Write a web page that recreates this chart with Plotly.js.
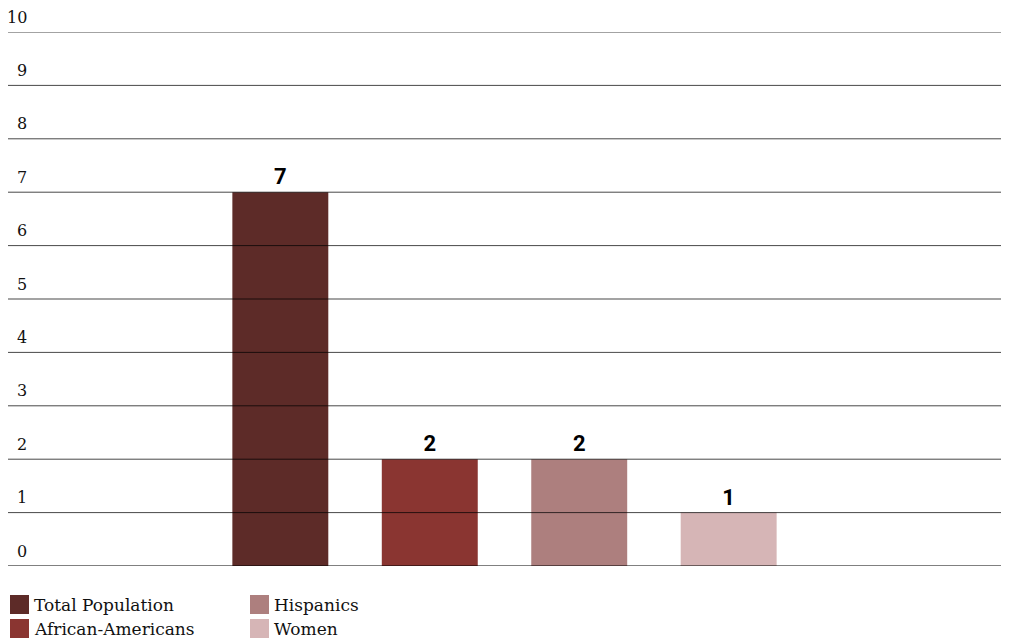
<!DOCTYPE html>
<html>
<head>
<meta charset="utf-8">
<script src="https://cdn.plot.ly/plotly-3.0.1.min.js"></script>
<style>
  html, body { margin: 0; padding: 0; background: #ffffff; }
  #chart { width: 1009px; height: 639px; }
</style>
</head>
<body>
<div id="chart"></div>
<script>
// Counts per group
const groups = ["Total Population", "African-Americans", "Hispanics", "Women"];
const counts = [7, 2, 2, 1];
const groupColors = ["#5d2b28", "#8a3531", "#ad7f7e", "#d6b5b6"];

// Value axis
const yTickValues = [0, 1, 2, 3, 4, 5, 6, 7, 8, 9, 10];
const yTickLabels = ["0", "1", "2", "3", "4", "5", "6", "7", "8", "9", "10"];
const yRange = [0, 10];

const W = 1009, H = 639;
const M = { l: 8, r: 8, t: 32, b: 73 };
const plotW = W - M.l - M.r;
const plotH = H - M.t - M.b;

// pixel -> paper helpers for the hand-drawn legend
const px = (x) => (x - M.l) / plotW;
const py = (y) => (H - M.b - y) / plotH;

const serif = "DejaVu Serif, Liberation Serif, serif";

const traces = groups.map((g, i) => ({
  type: "bar",
  name: g,
  x: [""],
  y: [counts[i]],
  text: [String(counts[i])],
  textposition: "outside",
  cliponaxis: false,
  marker: { color: groupColors[i], line: { width: 0 } },
  textfont: {
    family: "Roboto, DejaVu Sans, sans-serif",
    size: 22,
    weight: "bold",
    color: "#000000"
  },
  hoverinfo: "name+y",
  showlegend: false
}));

// Horizontal rules drawn over the bars
const shapes = yTickValues.map((v) => ({
  type: "line",
  xref: "paper", yref: "y",
  x0: 0, x1: 1, y0: v, y1: v,
  layer: "above",
  line: { color: v === 0 ? "#000000" : "rgba(0,0,0,0.72)", width: 1 }
}));

// Value labels sit just above each rule, right-aligned near the left edge
const annotations = yTickValues.map((v, i) => ({
  xref: "paper", yref: "y",
  x: 0, y: v,
  xanchor: "right", yanchor: "middle",
  xshift: 21, yshift: 15,
  showarrow: false,
  text: yTickLabels[i],
  font: { family: serif, size: 16, color: "#111111" }
}));

// Legend: two columns of swatches
const legendCols = [10, 250];
const legendRows = [595, 619];
groups.forEach((g, i) => {
  const col = Math.floor(i / 2);
  const row = i % 2;
  const x0 = legendCols[col];
  const y0 = legendRows[row];
  shapes.push({
    type: "rect",
    xref: "paper", yref: "paper",
    x0: px(x0), x1: px(x0 + 19),
    y0: py(y0 + 19), y1: py(y0),
    line: { width: 0 },
    fillcolor: groupColors[i]
  });
  annotations.push({
    xref: "paper", yref: "paper",
    x: px(x0 + 23), y: py(y0 + 9.5),
    xanchor: "left", yanchor: "middle",
    showarrow: false,
    borderpad: 0,
    text: g,
    font: { family: serif, size: 17, color: "#111111" }
  });
});

const layout = {
  width: W,
  height: H,
  margin: M,
  paper_bgcolor: "#ffffff",
  plot_bgcolor: "#ffffff",
  barmode: "group",
  bargap: 0.398,
  bargroupgap: 0.358,
  showlegend: false,
  xaxis: {
    type: "category",
    visible: false,
    range: [-0.5, 0.5],
    fixedrange: true
  },
  yaxis: {
    range: yRange,
    showgrid: false,
    zeroline: false,
    showline: false,
    showticklabels: false,
    ticks: "",
    fixedrange: true
  },
  shapes: shapes,
  annotations: annotations
};

Plotly.newPlot("chart", traces, layout, { displayModeBar: false, staticPlot: true });
</script>
</body>
</html>
